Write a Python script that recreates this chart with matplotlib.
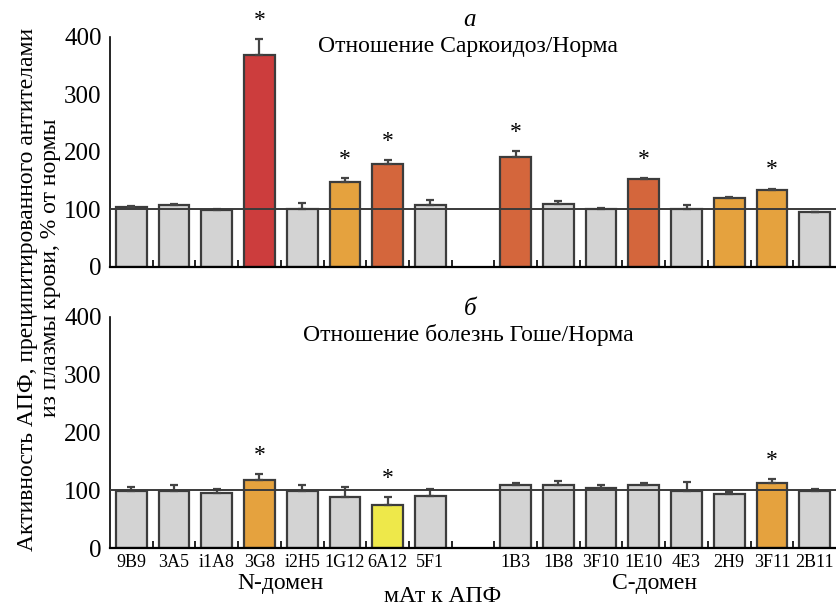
import matplotlib.pyplot as plt
import numpy as np

plt.rcParams['font.family'] = ['Liberation Serif', 'DejaVu Serif']

# mAbs to ACE, gap between N- and C-domain groups
labels = ["9B9", "3A5", "i1A8", "3G8", "i2H5", "1G12", "6A12", "5F1", "",
          "1B3", "1B8", "3F10", "1E10", "4E3", "2H9", "3F11", "2B11"]

# panel a: sarcoidosis / norm, %
sarc_vals = [104, 107, 99, 368, 101, 147, 179, 107, 0,
             190, 109, 100, 153, 101, 120, 133, 96]
sarc_err = [2, 2, 2, 28, 10, 7, 6, 9, 0,
            12, 5, 3, 1, 6, 2, 3, 0]
sarc_cols = ["g", "g", "g", "r", "g", "o", "or", "g", "g",
             "or", "g", "g", "or", "g", "o", "o", "g"]
sarc_star = [3, 5, 6, 9, 12, 15]

# panel б: Gaucher disease / norm, %
gau_vals = [99, 99, 96, 118, 99, 89, 75, 91, 0,
            109, 109, 104, 109, 99, 93, 113, 99]
gau_err = [7, 11, 7, 10, 10, 17, 14, 11, 0,
           4, 8, 5, 4, 15, 5, 7, 3]
gau_cols = ["g", "g", "g", "o", "g", "g", "y", "g", "g",
            "g", "g", "g", "g", "g", "g", "o", "g"]
gau_star = [3, 6, 15]

palette = {"g": "#d3d3d3", "r": "#cc3d3d", "or": "#d4663c",
           "o": "#e5a23e", "y": "#eee84a"}

fig = plt.figure(figsize=(8.36, 6.09), dpi=100)
ax1 = fig.add_axes([0.1316, 0.562, 0.8684, 0.3777])
ax2 = fig.add_axes([0.1316, 0.0997, 0.8684, 0.3803])

x = np.arange(len(labels))


def draw(ax, vals, err, cols, stars):
    show = [i for i in x if labels[i] != ""]
    v = [vals[i] for i in show]
    e = [err[i] for i in show]
    c = [palette[cols[i]] for i in show]
    ax.bar(show, v, width=0.72, color=c, edgecolor="#3c3c3c", linewidth=1.6,
           yerr=[np.zeros(len(e)), e], capsize=3,
           error_kw=dict(ecolor="#444444", elinewidth=1.6, capthick=1.6))
    ax.axhline(100, color="#3a3a3a", lw=1.4, zorder=5)
    for i in stars:
        ax.text(i, vals[i] + err[i] + 14, "*", ha="center", va="bottom",
                fontsize=17, clip_on=False)
    ax.set_xlim(-0.5, 16.5)
    ax.set_ylim(0, 400)
    ax.set_yticks([0, 100, 200, 300, 400])
    ax.tick_params(axis="y", length=0, labelsize=18, pad=6)
    ax.set_xticks(x)
    ax.set_xticks(x[:-1] + 0.5, minor=True)
    ax.tick_params(axis="x", which="major", length=0, labelsize=13, pad=4)
    ax.tick_params(axis="x", which="minor", direction="in", length=5, width=1.2)
    for s in ["top", "right"]:
        ax.spines[s].set_visible(False)
    ax.spines["left"].set_linewidth(1.2)
    ax.spines["bottom"].set_linewidth(1.6)


draw(ax1, sarc_vals, sarc_err, sarc_cols, sarc_star)
draw(ax2, gau_vals, gau_err, gau_cols, gau_star)
ax1.set_xticklabels([])
ax2.set_xticklabels(labels)

fig.text(0.562, 0.967, "а", ha="center", va="center", fontsize=18, style="italic")
fig.text(0.56, 0.923, "Отношение Саркоидоз/Норма", ha="center", va="center", fontsize=17)
fig.text(0.562, 0.493, "б", ha="center", va="center", fontsize=18, style="italic")
fig.text(0.56, 0.45, "Отношение болезнь Гоше/Норма", ha="center", va="center", fontsize=17)

fig.text(0.033, 0.525, "Активность АПФ, преципитированного антителами",
         rotation=90, ha="center", va="center", fontsize=17)
fig.text(0.061, 0.56, "из плазмы крови, % от нормы",
         rotation=90, ha="center", va="center", fontsize=17)

fig.text(0.336, 0.042, "N-домен", ha="center", va="center", fontsize=17)
fig.text(0.783, 0.042, "С-домен", ha="center", va="center", fontsize=17)
fig.text(0.53, 0.021, "мАт к АПФ", ha="center", va="center", fontsize=17)

fig.savefig("out.png", dpi=100)
